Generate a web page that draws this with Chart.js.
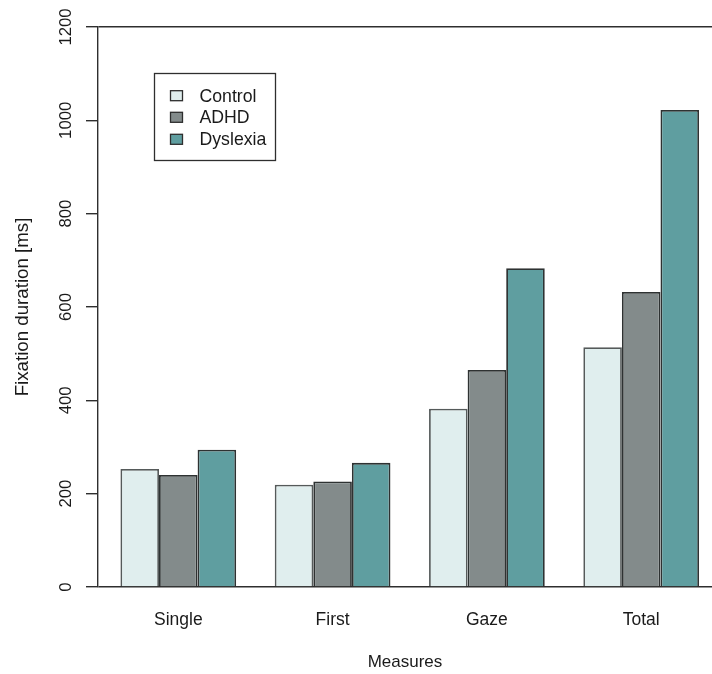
<!DOCTYPE html>
<html>
<head>
<meta charset="utf-8">
<script src="https://cdn.jsdelivr.net/npm/chart.js@4.4.1/dist/chart.umd.min.js"></script>
<style>
  html, body { margin: 0; padding: 0; background: #ffffff; overflow: hidden; }
  #wrap { width: 712px; height: 674px; position: relative; }
</style>
</head>
<body>
<div id="wrap"><canvas id="c" width="712" height="674"></canvas></div>
<script>
const categories = ['Single', 'First', 'Gaze', 'Total'];
const seriesNames = ['Control', 'ADHD', 'Dyslexia'];
const controlValues = [253, 219, 382, 514];
const adhdValues = [240, 226, 465, 632];
const dyslexiaValues = [294, 266, 683, 1022];
const yTicks = [0, 200, 400, 600, 800, 1000, 1200];
const seriesColors = ['#E0EEEE', '#838B8B', '#5F9EA0'];
const seriesValues = [controlValues, adhdValues, dyslexiaValues];

const FONT = 'Liberation Sans, Arial, Helvetica, sans-serif';
const TEXT = '#1a1a1a';
const LINE = '#2e2e2e';

const datasets = seriesNames.map((name, i) => ({
  label: name,
  data: seriesValues[i].map((v, j) => ({ x: j + 1, y: v })),
  backgroundColor: seriesColors[i],
  borderColor: i === 0 ? '#555a5a' : '#2e3232',
  borderWidth: 1.8,
  borderSkipped: 'bottom',
  categoryPercentage: 0.75,
  barPercentage: 1.0
}));

const legendBox = {
  id: 'legendBox',
  afterDraw(chart) {
    const ctx = chart.ctx;
    ctx.save();
    ctx.strokeStyle = LINE;
    ctx.lineWidth = 1.3;
    ctx.strokeRect(154.5, 73.5, 121, 87);
    ctx.font = '17.7px ' + FONT;
    ctx.textBaseline = 'middle';
    ctx.textAlign = 'left';
    const rows = [95.7, 117.3, 139.3];
    chart.data.datasets.forEach((ds, i) => {
      const cy = rows[i];
      ctx.fillStyle = ds.backgroundColor;
      ctx.fillRect(170.5, cy - 5, 12, 10);
      ctx.strokeStyle = LINE;
      ctx.lineWidth = 1.3;
      ctx.strokeRect(170.5, cy - 5, 12, 10);
      ctx.fillStyle = TEXT;
      ctx.fillText(ds.label, 199.5, cy + 1);
    });
    ctx.restore();
  }
};

new Chart(document.getElementById('c'), {
  type: 'bar',
  data: { datasets },
  plugins: [legendBox],
  options: {
    responsive: false,
    animation: false,
    layout: { padding: { left: 0, right: 0, top: 27, bottom: 0 } },
    plugins: { legend: { display: false }, tooltip: { enabled: false } },
    scales: {
      x: {
        type: 'linear',
        offset: false,
        min: 0.4796,
        max: 4.4589,
        grid: { display: false, drawTicks: false },
        border: { display: false },
        afterBuildTicks: (s) => { s.ticks = categories.map((c, i) => ({ value: i + 1 })); },
        afterFit: (s) => { s.height = 87; },
        ticks: {
          autoSkip: false,
          maxRotation: 0,
          padding: 23,
          color: TEXT,
          font: { family: FONT, size: 17.5 },
          callback: (v) => categories[Math.round(v) - 1] || ''
        },
        title: {
          display: true,
          text: 'Measures',
          color: TEXT,
          font: { family: FONT, size: 17 },
          padding: { top: 0, bottom: 1 }
        }
      },
      y: {
        min: 0,
        max: 1200,
        afterBuildTicks: (s) => { s.ticks = yTicks.map(v => ({ value: v })); },
        afterFit: (s) => { s.width = 98; },
        grid: {
          drawOnChartArea: true,
          tickLength: 12,
          color: (c) => (c.tick && (c.tick.value === 0 || c.tick.value === 1200)) ? LINE : 'rgba(0,0,0,0)',
          tickColor: LINE,
          lineWidth: 1.4
        },
        border: { display: true, color: LINE, width: 1.4 },
        ticks: {
          minRotation: 90,
          maxRotation: 90,
          crossAlign: 'center',
          padding: 1,
          color: TEXT,
          font: { family: FONT, size: 16.7 },
          callback: (v) => String(v)
        },
        title: {
          display: true,
          text: 'Fixation duration [ms]',
          color: TEXT,
          font: { family: FONT, size: 18.7 },
          padding: { top: 12, bottom: 0 }
        }
      }
    }
  }
});
</script>
</body>
</html>
